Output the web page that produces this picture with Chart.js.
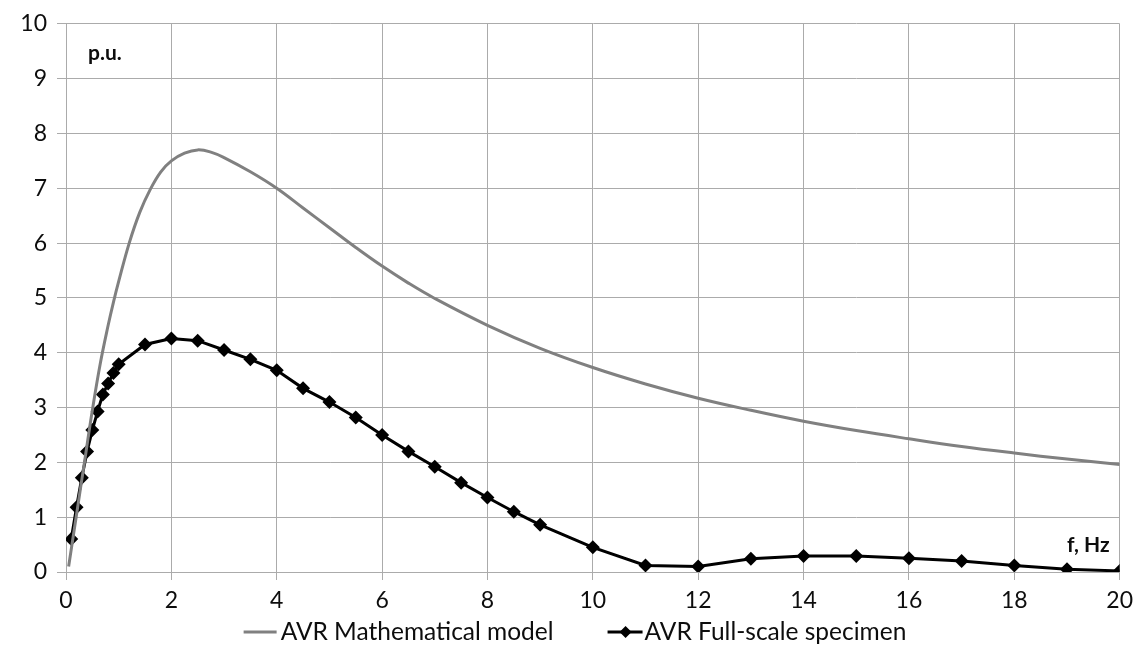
<!DOCTYPE html>
<html>
<head>
<meta charset="utf-8">
<script src="https://cdn.jsdelivr.net/npm/chart.js@4.4.1/dist/chart.umd.min.js"></script>
<style>
  html, body { margin: 0; padding: 0; background: #fff; }
  #wrap { width: 1140px; height: 652px; }
</style>
</head>
<body>
<div id="wrap"><canvas id="afrChart" width="1140" height="652"></canvas></div>
<script>
// AVR mathematical model (smooth curve)
const modelFreq = [0.05, 0.2, 0.35, 0.5, 0.65, 0.8, 0.9, 1.0, 1.2, 1.4, 1.6, 1.8, 2.0, 2.25, 2.5, 2.75, 3.0, 3.5, 4, 4.5, 5, 5.5, 6, 6.5, 7, 8, 9, 10, 11, 12, 13, 14, 15, 16, 17, 18, 19, 20];
const modelValues = [0.1, 1.05, 2.0, 2.95, 3.8, 4.5, 4.92, 5.3, 6.0, 6.56, 6.98, 7.3, 7.5, 7.64, 7.7, 7.66, 7.56, 7.3, 7.0, 6.64, 6.28, 5.92, 5.58, 5.27, 4.99, 4.5, 4.08, 3.73, 3.43, 3.17, 2.95, 2.75, 2.58, 2.43, 2.29, 2.17, 2.06, 1.96];

// AVR full-scale specimen (measured points)
const specimenFreq = [0.1, 0.2, 0.3, 0.4, 0.5, 0.6, 0.7, 0.8, 0.9, 1, 1.5, 2, 2.5, 3, 3.5, 4, 4.5, 5, 5.5, 6, 6.5, 7, 7.5, 8, 8.5, 9, 10, 11, 12, 13, 14, 15, 16, 17, 18, 19, 20];
const specimenValues = [0.6, 1.18, 1.72, 2.2, 2.59, 2.93, 3.24, 3.44, 3.63, 3.79, 4.15, 4.26, 4.22, 4.05, 3.88, 3.68, 3.35, 3.1, 2.82, 2.5, 2.2, 1.92, 1.63, 1.36, 1.1, 0.86, 0.45, 0.12, 0.1, 0.24, 0.29, 0.29, 0.25, 0.2, 0.12, 0.05, 0.02];

const seriesNames = ["AVR Mathematical model", "AVR Full-scale specimen"];
const yAxisLabel = "p.u.";
const xAxisLabel = "f, Hz";

const FONT = "Lato, 'Open Sans', sans-serif";
const GRID = "#ababab";
const TEXT = "#0d0d0d";

function toPoints(xs, ys) {
    return xs.map((x, i) => ({ x: x, y: ys[i] }));
}

// axis captions and the legend drawn on the canvas
const extraText = {
    id: "extraText",
    afterDraw(chart) {
        const ctx = chart.ctx;
        const area = chart.chartArea;
        ctx.save();
        ctx.fillStyle = TEXT;
        ctx.textBaseline = "middle";
        ctx.font = "bold 21px " + FONT;
        ctx.textAlign = "left";
        ctx.fillText(yAxisLabel, area.left + 22, area.top + 29);
        ctx.font = "bold 21px " + FONT;
        ctx.textAlign = "right";
        ctx.fillText(xAxisLabel, area.right - 10, area.bottom - 27);

        // legend
        ctx.font = "24.5px " + FONT;
        ctx.textAlign = "left";
        const w1 = ctx.measureText(seriesNames[0]).width;
        const w2 = ctx.measureText(seriesNames[1]).width;
        const total = 33 + 4 + w1 + 54 + 35 + 2 + w2;
        let x = 575 - total / 2;
        const y = 632;
        const ds = chart.data.datasets;

        ctx.strokeStyle = ds[0].borderColor;
        ctx.lineWidth = 3;
        ctx.beginPath();
        ctx.moveTo(x, y);
        ctx.lineTo(x + 33, y);
        ctx.stroke();
        x += 37;
        ctx.fillStyle = TEXT;
        ctx.fillText(seriesNames[0], x, y);
        x += w1 + 54;

        ctx.strokeStyle = ds[1].borderColor;
        ctx.beginPath();
        ctx.moveTo(x, y);
        ctx.lineTo(x + 35, y);
        ctx.stroke();
        const cx = x + 18;
        ctx.fillStyle = "#000";
        ctx.beginPath();
        ctx.moveTo(cx, y - 6);
        ctx.lineTo(cx + 6, y);
        ctx.lineTo(cx, y + 6);
        ctx.lineTo(cx - 6, y);
        ctx.closePath();
        ctx.fill();
        x += 37;
        ctx.fillStyle = TEXT;
        ctx.fillText(seriesNames[1], x, y);
        ctx.restore();
    }
};

const ctx = document.getElementById("afrChart").getContext("2d");
new Chart(ctx, {
    type: "line",
    data: {
        datasets: [
            {
                label: seriesNames[0],
                data: toPoints(modelFreq, modelValues),
                borderColor: "#808080",
                borderWidth: 3,
                pointRadius: 0,
                tension: 0.4,
                fill: false
            },
            {
                label: seriesNames[1],
                data: toPoints(specimenFreq, specimenValues),
                borderColor: "#000",
                backgroundColor: "#000",
                borderWidth: 3,
                pointStyle: "rectRot",
                pointRadius: 7,
                pointBorderWidth: 0,
                tension: 0,
                fill: false
            }
        ]
    },
    options: {
        responsive: false,
        animation: false,
        layout: { padding: { top: 20, right: 19, left: 0, bottom: 0 } },
        plugins: {
            legend: { display: false },
            tooltip: { enabled: false }
        },
        scales: {
            x: {
                type: "linear",
                min: 0,
                max: 20,
                ticks: { stepSize: 2, color: TEXT, font: { family: FONT, size: 23 }, padding: 7 },
                grid: { color: GRID, tickLength: 8, drawTicks: true },
                border: { color: GRID },
                afterFit: (scale) => { scale.height = 80; }
            },
            y: {
                min: 0,
                max: 10,
                ticks: { stepSize: 1, color: TEXT, font: { family: FONT, size: 23 }, padding: 10 },
                grid: { color: GRID, tickLength: 9, drawTicks: true },
                border: { color: GRID },
                afterFit: (scale) => { scale.width = 66; }
            }
        }
    },
    plugins: [extraText]
});
</script>
</body>
</html>
